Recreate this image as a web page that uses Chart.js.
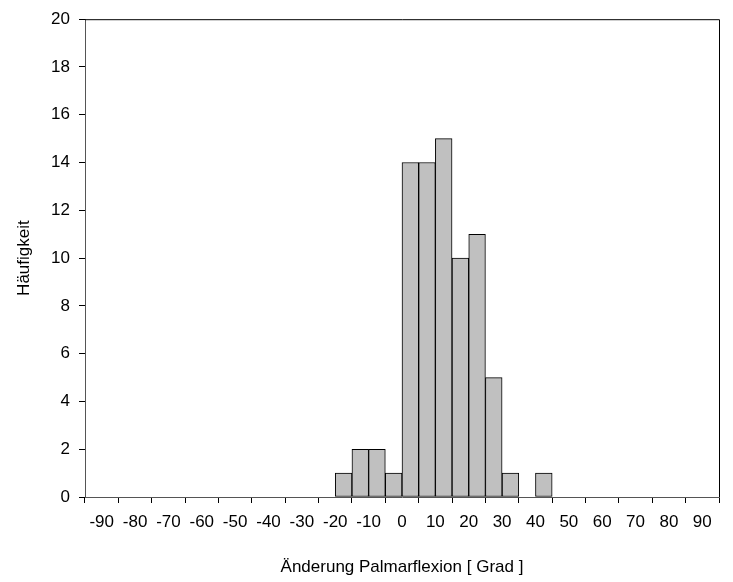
<!DOCTYPE html>
<html>
<head>
<meta charset="utf-8">
<style>
  html, body { margin: 0; padding: 0; background: #fff; }
  #wrap { width: 733px; height: 582px; }
</style>
<script src="https://cdn.jsdelivr.net/npm/chart.js@4/dist/chart.umd.min.js"></script>
</head>
<body>
<div id="wrap"><canvas id="histo"></canvas></div>
<script>
/* Histogramm: Änderung der Palmarflexion (Klassenbreite 5 Grad) */
var klassenMitte = [-17.5, -12.5, -7.5, -2.5, 2.5, 7.5, 12.5, 17.5, 22.5, 27.5, 32.5, 37.5, 42.5];
var haeufigkeit = [1, 2, 2, 1, 14, 14, 15, 10, 11, 5, 1, 0, 1];
var xTicks = [-90, -80, -70, -60, -50, -40, -30, -20, -10, 0, 10, 20, 30, 40, 50, 60, 70, 80, 90];
var yTicks = [0, 2, 4, 6, 8, 10, 12, 14, 16, 18, 20];

var SCHRIFT = 'Liberation Sans, Arial, sans-serif';

var punkte = [];
for (var i = 0; i < klassenMitte.length; i++) {
  punkte.push({ x: klassenMitte[i], y: haeufigkeit[i] });
}

/* Rahmen oben und rechts wie im Original */
var rahmen = {
  id: 'rahmen',
  afterDatasetsDraw: function (chart) {
    var a = chart.chartArea, ctx = chart.ctx;
    ctx.save();
    ctx.strokeStyle = '#000';
    ctx.lineWidth = 1;
    ctx.beginPath();
    ctx.moveTo(a.left, a.top + 0.5);
    ctx.lineTo(a.right + 0.5, a.top + 0.5);
    ctx.lineTo(a.right + 0.5, a.bottom);
    ctx.stroke();
    ctx.restore();
  }
};

new Chart(document.getElementById('histo'), {
  type: 'bar',
  data: {
    datasets: [{
      data: punkte,
      backgroundColor: '#c0c0c0',
      borderColor: '#000',
      borderWidth: 1,
      borderSkipped: false,
      barPercentage: 1,
      categoryPercentage: 1
    }]
  },
  options: {
    responsive: true,
    maintainAspectRatio: false,
    animation: false,
    layout: { padding: { top: 18, right: 14, left: 0, bottom: 0 } },
    plugins: { legend: { display: false }, tooltip: { enabled: false } },
    scales: {
      x: {
        type: 'linear',
        min: -90,
        max: 90,
        afterBuildTicks: function (s) { s.ticks = xTicks.map(function (v) { return { value: v }; }); },
        afterFit: function (s) { s.height = 85; },
        ticks: { color: '#000', font: { family: SCHRIFT, size: 17 }, padding: 9, maxRotation: 0, autoSkip: false },
        grid: { drawOnChartArea: false, tickLength: 6, color: '#000' },
        border: { color: '#555', width: 1 },
        title: { display: true, text: 'Änderung Palmarflexion [ Grad ]', color: '#000', font: { family: SCHRIFT, size: 17 }, padding: { top: 8 } }
      },
      y: {
        min: 0,
        max: 20,
        afterBuildTicks: function (s) { s.ticks = yTicks.map(function (v) { return { value: v }; }); },
        afterFit: function (s) { s.width = 85; },
        ticks: { color: '#000', font: { family: SCHRIFT, size: 17 }, padding: 9 },
        grid: { drawOnChartArea: false, tickLength: 6, color: '#000' },
        border: { color: '#555', width: 1 },
        title: { display: true, text: 'Häufigkeit', color: '#000', font: { family: SCHRIFT, size: 17 }, padding: { top: 14, bottom: 0 } }
      }
    }
  },
  plugins: [rahmen]
});
</script>
</body>
</html>
